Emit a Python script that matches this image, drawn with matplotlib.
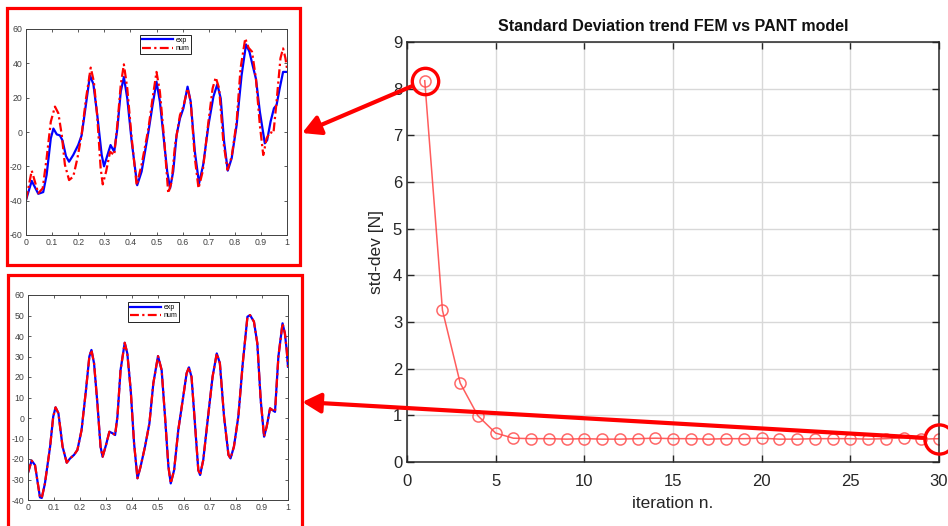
import matplotlib
matplotlib.use("Agg")
import matplotlib.pyplot as plt
from matplotlib.patches import Rectangle, ConnectionPatch

plt.rcParams['font.family'] = ['Liberation Sans', 'DejaVu Sans']
plt.rcParams['axes.unicode_minus'] = False

# convergence of the std-dev between FEM and PANT model
iterations = list(range(1, 31))
std_dev = [8.17, 3.25, 1.69, 0.99, 0.62, 0.51, 0.50, 0.50, 0.49, 0.50,
           0.49, 0.49, 0.50, 0.51, 0.50, 0.50, 0.49, 0.50, 0.50, 0.51,
           0.49, 0.49, 0.50, 0.50, 0.50, 0.49, 0.50, 0.52, 0.49, 0.50]

# first iteration: experimental vs numerical signal
exp1_t = [0, 0.022, 0.047, 0.066, 0.079, 0.095, 0.105, 0.118, 0.13, 0.14,
          0.153, 0.165, 0.181, 0.2, 0.213, 0.226, 0.245, 0.258, 0.273, 0.29,
          0.299, 0.311, 0.324, 0.338, 0.35, 0.363, 0.375, 0.388, 0.405, 0.426,
          0.443, 0.469, 0.485, 0.5, 0.513, 0.529, 0.541, 0.552, 0.564, 0.577,
          0.59, 0.603, 0.619, 0.631, 0.647, 0.663, 0.679, 0.699, 0.718, 0.733,
          0.746, 0.759, 0.773, 0.788, 0.807, 0.826, 0.843, 0.856, 0.868, 0.881,
          0.896, 0.915, 0.924, 0.937, 0.95, 0.96, 0.972, 0.985, 0.995, 1.0]
exp1_y = [-39.6, -28.5, -36, -35, -25, -3.7, 2, -1.4, -2, -5,
          -14, -17.3, -13.4, -7.6, -2, 12, 33, 28, 10, -13.4,
          -20, -14, -7.6, -11.5, 2, 23.5, 32, 19.6, -5.6, -31,
          -23, 0, 15.7, 29.3, 17.7, -5.6, -23, -32.8, -23, -1.7,
          8, 13.8, 26.4, 17.7, -11.5, -30, -19, 4, 20.6, 27.8,
          19.6, -5.6, -22.5, -15.3, 4, 33, 51, 46.8, 39, 31,
          11.8, -6.6, -4.7, 6, 13.8, 15.7, 25.4, 35, 35, 35]
num1_t = [0, 0.022, 0.047, 0.064, 0.079, 0.095, 0.111, 0.124, 0.137, 0.149,
          0.165, 0.181, 0.197, 0.213, 0.23, 0.248, 0.26, 0.273, 0.286, 0.294,
          0.307, 0.322, 0.338, 0.351, 0.363, 0.375, 0.388, 0.405, 0.424, 0.443,
          0.469, 0.485, 0.5, 0.513, 0.529, 0.545, 0.558, 0.571, 0.59, 0.603,
          0.619, 0.631, 0.647, 0.661, 0.677, 0.699, 0.715, 0.727, 0.74, 0.756,
          0.772, 0.788, 0.807, 0.822, 0.84, 0.853, 0.866, 0.881, 0.896, 0.909,
          0.922, 0.935, 0.948, 0.96, 0.975, 0.985, 0.994, 1.0]
num1_y = [-39.6, -22.5, -35.7, -32.8, -15.3, 6, 14.8, 10.9, -1.7, -19,
          -28, -26, -15.3, -1.7, 19.6, 37.5, 29.3, 9, -21, -30.5,
          -23, -11.5, -13.4, 6, 27.4, 39.4, 25.4, -3.7, -31, -19,
          2, 19.6, 35, 23.5, -3.7, -35.7, -29, -7.6, 9.9, 14.8,
          25.4, 17.7, -15.3, -32.8, -23, 6, 25.4, 31.8, 25.4, -5.6,
          -22, -14.4, 6, 37, 54.5, 49, 46.8, 31, 4, -13.4,
          -3.7, 0, -0.8, 17.7, 43, 48.7, 43, 37]

# last iteration: experimental vs numerical signal
exp2_t = [0, 0.014, 0.027, 0.046, 0.053, 0.065, 0.085, 0.097, 0.106, 0.117,
          0.133, 0.149, 0.162, 0.177, 0.19, 0.206, 0.223, 0.236, 0.244, 0.254,
          0.267, 0.279, 0.287, 0.3, 0.313, 0.326, 0.335, 0.344, 0.356, 0.372,
          0.382, 0.395, 0.408, 0.421, 0.433, 0.45, 0.467, 0.482, 0.5, 0.514,
          0.527, 0.54, 0.549, 0.562, 0.578, 0.597, 0.61, 0.619, 0.629, 0.642,
          0.655, 0.662, 0.674, 0.694, 0.71, 0.726, 0.738, 0.754, 0.771, 0.779,
          0.792, 0.809, 0.826, 0.844, 0.854, 0.869, 0.882, 0.895, 0.908, 0.918,
          0.931, 0.94, 0.95, 0.963, 0.979, 0.988, 0.995, 1.0]
exp2_y = [-26.7, -20.8, -23, -38.7, -39, -32, -14, 0.7, 5.2, 2.3,
          -14, -21.8, -19.7, -18, -15.6, -5.9, 13.7, 30, 33.2, 26.7,
          7, -14, -18.9, -13.2, -6.7, -7.5, -8.3, 0.7, 23.4, 36.7,
          31.5, 13.7, -12.4, -29.4, -23.7, -14, -2.6, 16.9, 30.2, 23.4,
          0.7, -23.7, -31.9, -25.4, -5.9, 10.4, 21.8, 24.7, 20, -2.6,
          -25.4, -27.8, -20.5, 2.3, 20.2, 31.5, 26.7, 0.7, -18, -19.7,
          -14, 0.7, 26.7, 49.4, 50.2, 47, 36.4, 8.8, -9.1, -4.2,
          4.7, 3.9, 3, 29.9, 46.2, 41.3, 33.2, 25]
num2_t = exp2_t
num2_y = exp2_y

W, H = 948, 526
fig = plt.figure(figsize=(W / 100, H / 100), dpi=100)

def frac(x0, y0, x1, y1):
    # pixel box (top-left origin) -> figure fraction rect
    return [x0 / W, 1 - y1 / H, (x1 - x0) / W, (y1 - y0) / H]

# main plot
ax = fig.add_axes(frac(407, 42, 939, 462))
ax.plot(iterations, std_dev, color=(1, 0.25, 0.25), lw=1.1, marker='o',
        ms=8, mfc='none', mec=(1, 0.3, 0.3), mew=1.1, alpha=0.85)
ax.set_xlim(0, 30)
ax.set_ylim(0, 9)
ax.set_xticks(range(0, 31, 5))
ax.set_yticks(range(0, 10))
ax.grid(True, color='#d8d8d8', lw=1)
ax.set_axisbelow(True)
ax.tick_params(direction='in', top=True, right=True, length=5,
               labelsize=12, colors='#262626', width=1)
ax.tick_params(axis='x', pad=9)
for s in ax.spines.values():
    s.set_color('#262626')
    s.set_linewidth(1.1)
ax.set_title('Standard Deviation trend FEM vs PANT model', fontsize=11.5,
             fontweight='bold', color='#111111', pad=8)
ax.set_xlabel('iteration n.', fontsize=12.5, color='#262626', labelpad=5)
ax.set_ylabel('std-dev [N]', fontsize=12.5, color='#262626', labelpad=6)

# highlight circles on first and last iteration
ax.plot([iterations[0]], [std_dev[0]], 'o', ms=19, mfc='none', mec='red',
        mew=2.4, clip_on=False, zorder=5)
ax.plot([iterations[-1]], [std_dev[-1]], 'o', ms=21, mfc='none', mec='red',
        mew=2.4, clip_on=False, zorder=5)


def inset(box, t_e, y_e, t_n, y_n, ylim, ystep, leg_xy, num_style):
    a = fig.add_axes(frac(*box))
    a.plot(t_e, y_e, color='#0000ff', lw=1.6, label='exp',
           solid_joinstyle='round')
    a.plot(t_n, y_n, color='#ff0000', lw=1.6, ls=num_style, label='num',
           dash_joinstyle='round')
    a.set_xlim(0, 1)
    a.set_ylim(*ylim)
    a.set_xticks([i / 10 for i in range(11)])
    a.set_xticklabels(['0'] + ['0.%d' % i for i in range(1, 10)] + ['1'])
    a.set_yticks(range(ylim[0], ylim[1] + 1, ystep))
    a.tick_params(direction='in', top=True, right=True, length=2.5,
                  labelsize=6.3, colors='#404040', width=0.6, pad=2.5)
    for s in a.spines.values():
        s.set_color('#404040')
        s.set_linewidth(0.7)
    leg = a.legend(loc='upper left', bbox_to_anchor=leg_xy, fontsize=5,
                   fancybox=False, edgecolor='#222222', framealpha=1,
                   borderpad=0.3, handlelength=4.5, handletextpad=0.3,
                   labelspacing=0.2, borderaxespad=0)
    leg.get_frame().set_linewidth(0.7)
    return a

in1 = inset((26, 29, 287, 235), exp1_t, exp1_y, num1_t, num1_y, (-60, 60), 20,
            (0.437, 0.972), (0, (4, 1.5, 1, 1.5)))
in2 = inset((28, 295, 288, 500), exp2_t, exp2_y, num2_t, num2_y, (-40, 60), 10,
            (0.385, 0.966), (0, (4, 1.5, 1, 1.5)))

# red frames around the insets
for box in [(7, 8, 300, 265), (8, 275, 302, 540)]:
    fig.add_artist(Rectangle(frac(*box)[:2], frac(*box)[2], frac(*box)[3],
                             transform=fig.transFigure, fill=False,
                             edgecolor='red', lw=2.3, clip_on=False))

# arrows from highlighted points to the insets
for a, i, xy in [(in1, 0, (1.058, 0.495)), (in2, -1, (1.055, 0.478))]:
    con = ConnectionPatch(xyA=(iterations[i], std_dev[i]), coordsA=ax.transData,
                          xyB=xy, coordsB=a.transAxes, arrowstyle='-|>,head_length=0.55,head_width=0.3',
                          mutation_scale=20, color='red', lw=3,
                          shrinkA=10, shrinkB=0)
    fig.add_artist(con)

fig.savefig('out.png', dpi=100)
